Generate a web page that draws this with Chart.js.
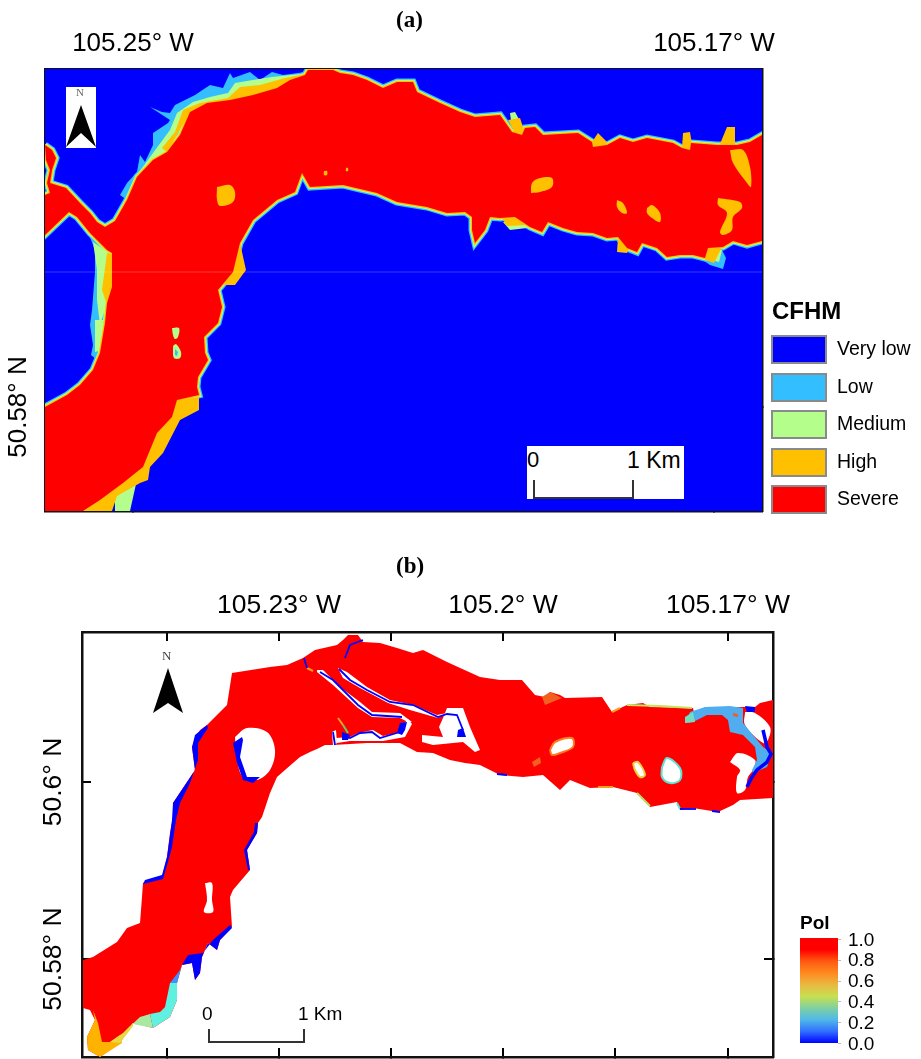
<!DOCTYPE html>
<html>
<head>
<meta charset="utf-8">
<title>CFHM and PoI maps</title>
<script src="https://cdn.jsdelivr.net/npm/chart.js@4"></script>
<style>
    html, body { margin: 0; padding: 0; background: #fff; }
    body { position: relative; width: 921px; height: 1059px; overflow: hidden; font-family: "Liberation Sans", Arial, sans-serif; color: #000; }
    canvas { position: absolute; left: 0; }
    .txt { position: absolute; white-space: nowrap; line-height: 1; }
    .panel-title { font-family: "Liberation Serif", serif; font-weight: bold; font-size: 23px; }
    .box { position: absolute; }
</style>
</head>
<body>
<canvas id="mapA" width="921" height="530" style="top:0"></canvas>
<canvas id="mapB" width="921" height="529" style="top:530px"></canvas>
<div id="overlay"></div>
<script>
// map grid is in raster col/row
const classNames = ['Very low', 'Low', 'Medium', 'High', 'Severe'];
const classColors = ['#0000ff', '#33bfff', '#b4ff8c', '#ffc000', '#ff0000'];
const polTicks = ['1.0', '0.8', '0.6', '0.4', '0.2', '0.0'];
const polColors = ['#ff0000', '#ff0000', '#ff5a10', '#ff8a20', '#e8b840', '#c8e050', '#80d0a0', '#50b8e8', '#3070ff', '#0000ff'];

const lonTicksA = [133, 714];
const lonLabelsA = ['105.25° W', '105.17° W'];
const latTicksA = [407];
const latLabelsA = ['50.58° N'];
const lonTicksB = [167, 279, 391, 503, 615, 728];
const lonLabelsB = ['', '105.23° W', '', '105.2° W', '', '105.17° W'];
const latTicksB = [782, 959];
const latLabelsB = ['50.6° N', '50.58° N'];

// panel (a)
const frameA = [[45, 69], [762, 69], [762, 511], [45, 511]];
const severeA = [[45, 145], [52, 150], [56, 158], [52, 170], [50, 183], [66, 188], [80, 203], [90, 213], [97, 222], [105, 227], [115, 221], [127, 200], [137, 177], [153, 160], [167, 152], [180, 135], [190, 112], [207, 103], [230, 100], [253, 95], [277, 88], [290, 80], [305, 75], [308, 70], [333, 70], [340, 73], [353, 75], [367, 80], [383, 88], [397, 82], [413, 82], [417, 92], [440, 103], [460, 112], [475, 117], [500, 115], [512, 132], [522, 135], [525, 128], [535, 127], [543, 135], [578, 133], [592, 142], [593, 147], [607, 145], [620, 138], [633, 142], [647, 138], [673, 143], [682, 148], [690, 150], [691, 143], [717, 145], [737, 145], [750, 142], [762, 135], [762, 241], [747, 245], [733, 241], [723, 247], [708, 248], [705, 258], [693, 255], [680, 255], [667, 257], [657, 248], [642, 243], [637, 252], [627, 248], [618, 237], [607, 238], [593, 233], [577, 232], [563, 228], [548, 222], [542, 232], [530, 227], [515, 217], [500, 218], [490, 217], [485, 230], [475, 243], [472, 230], [472, 217], [465, 212], [447, 213], [427, 207], [397, 202], [377, 193], [343, 185], [310, 187], [302, 173], [295, 192], [277, 200], [253, 220], [240, 243], [233, 272], [218, 290], [222, 307], [218, 323], [204, 337], [205, 353], [208, 360], [198, 377], [197, 387], [199, 395], [177, 400], [172, 417], [157, 433], [143, 467], [123, 483], [100, 500], [83, 511], [45, 511], [45, 407], [67, 395], [80, 385], [93, 370], [100, 353], [105, 323], [107, 303], [112, 287], [112, 253], [107, 250], [90, 233], [77, 217], [69, 212], [45, 235], [45, 195], [50, 193], [47, 183], [50, 170], [46, 160]];
const lowShoreA = [[120, 195], [127, 183], [137, 172], [140, 155], [145, 162], [153, 145], [153, 133], [168, 123], [170, 120], [150, 107], [162, 112], [170, 113], [175, 105], [195, 95], [210, 85], [223, 88], [230, 73], [233, 78], [250, 72], [260, 80], [272, 72], [283, 75], [306, 72], [305, 76], [277, 88], [230, 100], [190, 112], [167, 152], [137, 177], [127, 200]];
const lowSouthEastA = [[705, 258], [722, 250], [726, 258], [723, 269], [710, 265], [700, 258]];
const lowWestA = [[88, 232], [95, 250], [95, 272], [92, 310], [90, 325], [93, 345], [91, 355], [97, 360], [103, 320], [110, 290], [110, 250]];
const mediumShoreA = [[137, 175], [153, 153], [170, 130], [177, 113], [193, 102], [210, 97], [228, 93], [235, 83], [253, 80], [272, 77], [300, 74], [277, 88], [230, 100], [190, 112], [167, 152], [137, 177]];
const mediumPatchesA = [
    [[510, 113], [515, 112], [522, 125], [512, 128]],
    [[503, 222], [520, 220], [527, 228], [510, 230]],
    [[712, 250], [722, 250], [719, 262], [712, 260]],
    [[93, 242], [108, 252], [108, 300], [100, 325], [97, 300], [97, 270]],
    [[95, 320], [104, 320], [102, 350], [95, 352]],
    [[115, 495], [136, 484], [130, 511], [115, 511]]
];
const highShoreA = [[162, 148], [175, 132], [183, 110], [200, 103], [228, 98], [240, 87], [260, 85], [285, 78], [300, 75], [277, 88], [230, 100], [190, 112], [167, 152]];
const highPatchesA = [
    [[508, 120], [520, 118], [525, 133], [515, 133]],
    [[592, 142], [598, 133], [608, 143], [593, 148]],
    [[683, 133], [690, 132], [692, 145], [687, 150], [682, 148]],
    [[720, 144], [727, 127], [735, 127], [735, 146]],
    [[705, 260], [708, 247], [722, 247], [714, 263]],
    [[618, 237], [630, 246], [627, 253], [617, 252]],
    [[502, 218], [517, 214], [527, 225], [507, 226]],
    [[233, 243], [240, 243], [246, 270], [235, 285], [224, 285]],
    [[107, 253], [114, 255], [113, 290], [107, 305], [102, 290]],
    [[102, 323], [125, 304], [122, 310], [105, 322]],
    [[177, 400], [199, 397], [199, 410], [180, 420], [163, 453], [150, 467], [148, 480], [140, 483], [117, 496], [112, 511], [83, 511]]
];
const patchesA = [
    [[217, 187], [230, 185], [235, 192], [233, 202], [220, 206], [217, 200]],
    [[324, 171], [327, 171], [327, 175], [324, 175]],
    [[346, 168], [348, 168], [348, 171], [346, 171]],
    [[531, 193], [532, 183], [540, 178], [552, 178], [552, 187], [540, 192]],
    [[617, 200], [623, 203], [627, 213], [622, 213], [617, 207]],
    [[647, 208], [652, 205], [660, 213], [660, 222], [652, 218], [647, 213]],
    [[730, 150], [743, 150], [750, 167], [751, 187], [747, 183], [733, 163]],
    [[718, 198], [740, 202], [742, 208], [733, 217], [732, 230], [723, 235], [720, 232], [727, 213], [718, 205]]
];
const mediumIslesA = [
    [[172, 328], [179, 328], [178, 337], [175, 339], [173, 335]],
    [[173, 346], [176, 344], [181, 352], [180, 358], [174, 358]]
];
const lowIsleA = [[175, 349], [178, 352], [177, 356], [175, 355]];
const seamA = [[45, 272], [762, 272]];

// panel (b)
const frameB = [[82, 632], [773, 632], [773, 1057], [82, 1057]];
const severeB = [[232, 673], [270, 667], [287, 665], [303, 658], [315, 650], [337, 645], [343, 640], [348, 635], [358, 635], [363, 642], [380, 643], [397, 648], [413, 653], [423, 650], [447, 662], [480, 677], [500, 680], [522, 680], [535, 695], [545, 697], [550, 692], [560, 695], [565, 698], [602, 697], [612, 712], [627, 705], [643, 703], [650, 707], [693, 708], [695, 717], [703, 713], [705, 707], [743, 707], [755, 707], [760, 703], [773, 700], [773, 798], [740, 800], [733, 805], [718, 812], [693, 808], [680, 810], [677, 802], [650, 807], [637, 793], [613, 787], [590, 788], [570, 780], [560, 790], [543, 775], [523, 777], [500, 775], [480, 765], [465, 763], [450, 760], [433, 753], [417, 752], [400, 743], [367, 743], [333, 745], [325, 745], [317, 749], [310, 752], [300, 757], [293, 763], [277, 777], [270, 793], [262, 817], [258, 823], [257, 833], [247, 850], [250, 870], [233, 890], [230, 897], [232, 927], [220, 940], [217, 950], [208, 943], [202, 957], [200, 973], [195, 980], [192, 963], [182, 965], [177, 983], [177, 1000], [170, 1017], [153, 1028], [133, 1023], [120, 1043], [100, 1057], [88, 1050], [87, 1037], [95, 1020], [90, 1010], [83, 1008], [83, 960], [93, 957], [117, 942], [127, 928], [140, 923], [142, 897], [143, 883], [162, 877], [167, 857], [170, 833], [173, 817], [173, 803], [183, 788], [195, 770], [192, 747], [200, 730], [207, 725], [227, 705]];
const blueRimsB = [
    [[207, 725], [195, 735], [192, 747], [195, 770], [183, 788], [173, 803], [172, 820], [170, 835], [167, 857], [162, 875], [145, 880], [143, 884], [163, 879], [168, 862], [172, 847], [176, 820], [180, 803], [190, 783], [198, 760], [198, 743], [208, 728]],
    [[230, 925], [232, 928], [220, 940], [217, 950], [208, 943], [202, 957], [200, 973], [195, 980], [192, 963], [182, 965], [188, 955], [203, 953], [213, 940]],
    [[258, 823], [257, 833], [247, 850], [250, 870], [248, 870], [244, 850], [254, 832], [255, 823]],
    [[233, 743], [242, 737], [243, 740], [240, 757], [247, 777], [260, 777], [253, 783], [243, 780], [237, 763]],
    [[745, 706], [755, 707], [755, 712], [747, 712]],
    [[400, 723], [407, 722], [405, 730], [402, 735], [397, 733]],
    [[342, 732], [350, 735], [348, 740], [342, 740]],
    [[458, 730], [463, 728], [466, 737], [457, 737]]
];
const holesB = [
    [[235, 737], [247, 728], [267, 732], [275, 750], [270, 770], [257, 780], [243, 777], [237, 760]],
    [[205, 883], [212, 883], [212, 900], [213, 912], [204, 912], [207, 900]],
    [[745, 712], [755, 713], [770, 727], [768, 740], [763, 743], [745, 725]],
    [[730, 762], [738, 753], [755, 760], [753, 770], [748, 777], [745, 790], [737, 793], [737, 777], [740, 770]]
];
const channelsB = [
    [[317, 670], [323, 670], [340, 687], [360, 702], [372, 712], [400, 713], [412, 722], [408, 722], [400, 718], [372, 717], [358, 708], [333, 685], [317, 672]],
    [[338, 668], [347, 672], [367, 687], [390, 700], [413, 705], [437, 715], [447, 713], [438, 718], [410, 710], [388, 703], [360, 688], [343, 678]],
    [[447, 708], [463, 708], [470, 727], [480, 750], [475, 752], [463, 742], [433, 745], [422, 742], [422, 735], [443, 737], [439, 727], [443, 718]],
    [[332, 732], [336, 730], [337, 743], [333, 746]],
    [[336, 738], [350, 737], [358, 733], [373, 730], [383, 736], [397, 733], [403, 725], [408, 719], [412, 724], [405, 737], [383, 741], [367, 741], [350, 741], [337, 743]]
];
const smallHolesB = [
    { pts: [[550, 750], [555, 742], [572, 738], [573, 747], [560, 753], [552, 755]], rim: '#ff7a20' },
    { pts: [[633, 763], [638, 762], [645, 775], [640, 777], [635, 770]], rim: '#e8d040' },
    { pts: [[662, 767], [667, 758], [680, 768], [680, 780], [670, 783], [662, 777]], rim: '#60e0d0' }
];
const blueLinesB = [
    [[363, 640], [350, 645], [345, 658]],
    [[304, 658], [307, 668]],
    [[320, 672], [333, 680], [358, 705], [372, 715], [402, 717]],
    [[339, 669], [350, 680], [367, 690], [390, 702], [413, 705], [438, 717], [447, 714], [457, 715], [463, 730]],
    [[342, 735], [350, 738], [360, 733], [372, 732], [380, 738], [400, 732]],
    [[333, 732], [335, 745]],
    [[497, 774], [507, 775]],
    [[680, 809], [696, 809]],
    [[712, 811], [720, 812]]
];
const blueStreakB = [[763, 730], [767, 747], [771, 754], [767, 762], [757, 770], [752, 777], [747, 787]];
const lightBlueB = [[690, 712], [705, 707], [730, 706], [743, 708], [743, 723], [763, 747], [772, 753], [767, 767], [753, 773], [752, 770], [757, 760], [755, 747], [743, 735], [730, 732], [728, 720], [722, 715], [707, 715], [693, 722], [685, 723]];
const tealB = [[685, 717], [693, 712], [695, 722], [685, 723]];
const orangeSpotsB = [
    [[733, 713], [738, 714], [738, 717], [733, 716]],
    [[542, 697], [550, 692], [562, 698], [545, 705]],
    [[532, 762], [540, 757], [541, 763], [534, 767]]
];
const tipOrangeB = [[93, 1010], [98, 1023], [102, 1042], [110, 1042], [120, 1035], [122, 1043], [100, 1057], [88, 1050], [87, 1037], [95, 1020]];
const tipYellowB = [[110, 1042], [123, 1033], [133, 1023], [133, 1026], [120, 1043]];
const tipGreenB = [[123, 1033], [140, 1017], [150, 1014], [153, 1028], [133, 1024]];
const tipCyanB = [[150, 1014], [160, 1012], [165, 1007], [170, 983], [177, 983], [177, 1000], [170, 1017], [153, 1028]];
const tipBlueB = [[170, 983], [180, 970], [182, 965], [177, 983]];
const coastTintsB = [
    { pts: [[598, 787], [613, 787]], color: '#ff9a20' },
    { pts: [[637, 793], [650, 806]], color: '#b8e060' },
    { pts: [[677, 803], [680, 809]], color: '#50e8e0' },
    { pts: [[627, 705], [660, 706], [692, 708]], color: '#c8e060' },
    { pts: [[612, 712], [620, 708]], color: '#ffa020' },
    { pts: [[338, 718], [343, 725]], color: '#ffa020' },
    { pts: [[343, 725], [348, 733]], color: '#60d060' },
    { pts: [[307, 668], [313, 671]], color: '#ff9a20' }
];

function shape(pts, color, rim, rimWidth) {
    return {
        data: pts.concat([pts[0]]),
        showLine: true,
        fill: 'shape',
        backgroundColor: color,
        borderColor: rim || color,
        borderWidth: rimWidth === undefined ? 0 : rimWidth,
        pointRadius: 0
    };
}

// rounded patch, same as shape but with a soft outline
function blob(pts, color, rim, rimWidth) {
    return Object.assign(shape(pts, color, rim, rimWidth), { tension: 0.35 });
}

function outline(pts, color, width) {
    return {
        data: pts,
        showLine: true,
        fill: false,
        borderColor: color,
        borderWidth: width,
        pointRadius: 0
    };
}

// first listed is painted first, chart.js draws the last dataset first
function layers(list) {
    return list.slice().reverse();
}

function edgeAxis(position, ticksAt, labels, size, padding, fontSize, extra) {
    return Object.assign({
        type: 'linear',
        position: position,
        z: 1,
        afterBuildTicks: function(scale) { scale.ticks = ticksAt.map(v => ({ value: v })); },
        afterFit: function(scale) {
            if (scale.isHorizontal()) { scale.height = size; } else { scale.width = size; }
            // keep long labels from pushing the chart area in
            scale.paddingLeft = scale.paddingRight = scale.paddingTop = scale.paddingBottom = 0;
        },
        border: { display: true, color: '#111', width: 2.5 },
        grid: { drawOnChartArea: false, color: '#000', lineWidth: 2, tickLength: -9 },
        ticks: {
            autoSkip: false,
            maxRotation: 90,
            color: '#000',
            padding: padding,
            font: { family: '"Liberation Sans", Arial, sans-serif', size: fontSize },
            callback: function(value) {
                const i = ticksAt.indexOf(value);
                return labels && i >= 0 ? labels[i] : '';
            }
        }
    }, extra);
}

function drawMap(canvasId, datasets, f, lonTicks, lonLabels, latTicks, latLabels, sizes) {
    const xRange = { min: f[0][0], max: f[1][0] };
    const yRange = { min: f[0][1], max: f[2][1], reverse: true };
    const scales = {
        x: edgeAxis('top', lonTicks, lonLabels, sizes.top, sizes.topPad, sizes.font, xRange),
        xEdge: edgeAxis('bottom', lonTicks, null, sizes.bottom, 0, sizes.font, Object.assign({ axis: 'x' }, xRange)),
        y: edgeAxis('left', latTicks, latLabels, sizes.left, sizes.leftPad, sizes.font, Object.assign({}, yRange)),
        yEdge: edgeAxis('right', latTicks, null, sizes.right, 0, sizes.font, Object.assign({ axis: 'y' }, yRange))
    };
    scales.x.ticks.maxRotation = 0;
    scales.y.ticks.minRotation = 90;
    scales.y.ticks.crossAlign = 'center';
    new Chart(document.getElementById(canvasId), {
        type: 'scatter',
        data: { datasets: datasets },
        options: {
            responsive: false,
            animation: false,
            events: [],
            layout: { padding: 0 },
            plugins: { legend: { display: false }, tooltip: { enabled: false }, title: { display: false } },
            scales: scales
        }
    });
}

const datasetsA = layers([
    shape(frameA, classColors[0]),
    outline(severeA.concat([severeA[0]]), classColors[1], 7),
    shape(lowShoreA, classColors[1]),
    shape(lowSouthEastA, classColors[1]),
    shape(lowWestA, classColors[1]),
    outline(severeA.concat([severeA[0]]), classColors[2], 4.5),
    shape(mediumShoreA, classColors[2]),
    ...mediumPatchesA.map(p => shape(p, classColors[2])),
    outline(severeA.concat([severeA[0]]), classColors[3], 2.5),
    shape(highShoreA, classColors[3]),
    ...highPatchesA.map(p => shape(p, classColors[3])),
    shape(severeA, classColors[4]),
    ...patchesA.map(p => blob(p, classColors[3])),
    ...mediumIslesA.map(p => blob(p, classColors[2])),
    shape(lowIsleA, classColors[1]),
    outline(seamA, 'rgba(255,255,255,0.22)', 1)
]);

const datasetsB = layers([
    shape(severeB, '#ff0000'),
    ...coastTintsB.map(t => outline(t.pts, t.color, 2)),
    shape(tipOrangeB, '#ffb300'),
    shape(tipYellowB, '#e8d840'),
    shape(tipGreenB, '#a8e8a0'),
    shape(tipCyanB, '#60f0e0'),
    shape(tipBlueB, '#4090ff'),
    ...holesB.map(p => blob(p, '#ffffff')),
    ...channelsB.map(p => shape(p, '#ffffff')),
    ...smallHolesB.map(h => blob(h.pts, '#ffffff', h.rim, 2)),
    shape(lightBlueB, '#50aef0'),
    shape(tealB, '#70e0c0'),
    ...orangeSpotsB.map(p => shape(p, '#f06020')),
    ...blueRimsB.map(p => shape(p, '#0000ff')),
    ...blueLinesB.map(p => outline(p, '#0000ff', 1.8)),
    outline(blueStreakB, '#0000ff', 3.5)
]);

drawMap('mapA', datasetsA, frameA, lonTicksA, lonLabelsA, latTicksA, latLabelsA,
    { top: 69, bottom: 19, left: 45, right: 159, topPad: 19, leftPad: -16, font: 26 });
drawMap('mapB', datasetsB, frameB, lonTicksB, lonLabelsB, latTicksB, latLabelsB,
    { top: 102, bottom: 2, left: 82, right: 148, topPad: 19, leftPad: -14, font: 26.5 });

// titles, legends, scale bars, north arrows
const overlay = document.getElementById('overlay');

function addText(text, x, y, size, opts) {
    const el = document.createElement('div');
    el.className = 'txt ' + ((opts && opts.cls) || '');
    el.textContent = text;
    el.style.left = x + 'px';
    el.style.top = (y - size / 2) + 'px';
    if (!(opts && opts.cls)) { el.style.fontSize = size + 'px'; }
    if (opts && opts.bold) { el.style.fontWeight = 'bold'; }
    if (opts && opts.color) { el.style.color = opts.color; }
    overlay.appendChild(el);
    return el;
}

function addBox(x, y, w, h, css) {
    const el = document.createElement('div');
    el.className = 'box';
    el.style.cssText += `left:${x}px;top:${y}px;width:${w}px;height:${h}px;${css}`;
    overlay.appendChild(el);
    return el;
}

function northArrow(cx, apexY, baseY, notchY, halfWidth) {
    const el = addBox(cx - halfWidth, apexY, halfWidth * 2, baseY - apexY,
        'background:#000;clip-path:polygon(50% 0,100% 100%,50% ' + (100 * (notchY - apexY) / (baseY - apexY)) + '%,0 100%);');
    return el;
}

function scaleBar(x0, x1, yTop, yBase) {
    addBox(x0, yTop, 2, yBase - yTop, 'background:#333;');
    addBox(x1, yTop, 2, yBase - yTop, 'background:#333;');
    addBox(x0, yBase, x1 - x0 + 2, 2, 'background:#333;');
}

addText('(a)', 396, 19, 23, { cls: 'panel-title' });
addText('(b)', 396, 565, 23, { cls: 'panel-title' });

addText('CFHM', 772, 311, 24, { bold: true });
classNames.forEach(function(name, i) {
    const y = 335 + i * 37.5;
    addBox(771, y, 52, 25, 'background:' + classColors[i] + ';border:2px solid #8a8a8a;');
    addText(name, 837, y + 14, 19.5);
});

// scale bar and north arrow of (a)
addBox(527, 446, 157, 53, 'background:#fff;');
addText('0', 527, 460, 22);
addText('1 Km', 627, 460, 23);
scaleBar(533, 632, 480, 497);
addBox(66, 87, 30, 61, 'background:#fff;');
addText('N', 76, 92, 11, { color: '#666' }).style.fontFamily = '"Liberation Serif", serif';
northArrow(81, 105, 147, 133, 15);

// scale bar, north arrow and colour bar of (b)
addText('0', 202, 1013, 19);
addText('1 Km', 298, 1013, 19);
scaleBar(208, 303, 1029, 1041);
addText('N', 162, 655, 13, { color: '#444' }).style.fontFamily = '"Liberation Serif", serif';
northArrow(168, 668, 713, 703, 15);

addText('Pol', 800, 922, 19, { bold: true });
addBox(800, 938, 38, 105, 'background:linear-gradient(to bottom,' + polColors.join(',') + ');');
polTicks.forEach(function(t, i) {
    const y = 939 + i * 20.8;
    addBox(838, y, 3, 1, 'background:#bbb;');
    addText(t, 848, y, 19);
});
</script>
</body>
</html>
